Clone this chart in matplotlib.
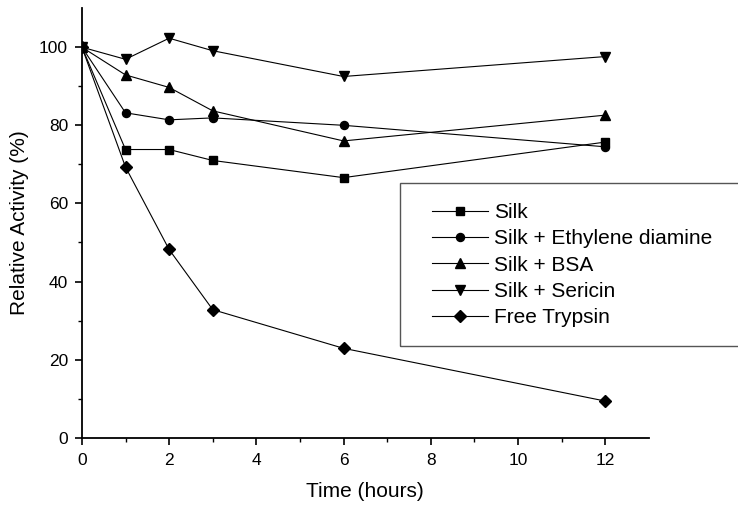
import numpy as np
import matplotlib.pyplot as plt
from matplotlib.patches import Rectangle

plt.rcParams['font.family'] = ['Liberation Sans', 'DejaVu Sans']

# sampling times (hours)
time_h = [0, 1, 2, 3, 6, 12]

silk = [100, 73.8, 73.8, 71.0, 66.6, 75.7]
silk_eda = [100, 83.2, 81.4, 81.9, 80.0, 74.5]
silk_bsa = [100, 92.9, 89.7, 83.7, 76.0, 82.6]
silk_sericin = [100, 96.9, 102.3, 99.1, 92.5, 97.6]
free_trypsin = [100, 69.3, 48.2, 32.8, 22.9, 9.4]

labels = ['Silk', 'Silk + Ethylene diamine', 'Silk + BSA',
          'Silk + Sericin', 'Free Trypsin']
markers = ['s', 'o', '^', 'v', 'D']
series = [silk, silk_eda, silk_bsa, silk_sericin, free_trypsin]

fig = plt.figure(figsize=(7.38, 5.09), dpi=100)
ax = fig.add_axes([0.111, 0.140, 0.768, 0.844])

for y, lab, mk in zip(series, labels, markers):
    ms = 6.5 if mk in ('^', 'v') else 5.8
    if mk == 'D':
        ms = 6
    ax.plot(time_h, y, color='black', linewidth=0.8, marker=mk,
            markersize=ms, label=lab)

ax.set_xlim(0, 13)
ax.set_ylim(0, 110)
ax.set_xticks(np.arange(0, 13, 2))
ax.set_xticks(np.arange(1, 13, 2), minor=True)
ax.set_yticks(np.arange(0, 101, 20))
ax.set_yticks(np.arange(10, 110, 20), minor=True)
for side in ('top', 'right'):
    ax.spines[side].set_visible(False)
for side in ('left', 'bottom'):
    ax.spines[side].set_linewidth(1.3)
ax.tick_params(which='major', direction='out', length=5, width=1.2,
               labelsize=12.5)
ax.tick_params(axis='x', which='major', pad=6)
ax.tick_params(axis='y', which='major', pad=5)
ax.tick_params(which='minor', direction='out', length=3, width=1.0)
ax.set_xlabel('Time (hours)', fontsize=15, labelpad=10)
ax.set_ylabel('Relative Activity (%)', fontsize=15, labelpad=7)

# legend frame running off the right edge
fig.patches.append(Rectangle((400 / 738, 1 - 346 / 509), 0.6, 163 / 509,
                             transform=fig.transFigure, fill=False,
                             edgecolor='#555555', linewidth=1.0))
fig.legend(loc='upper left', bbox_to_anchor=(432 / 738, 1 - 203 / 509),
           frameon=False, fontsize=15, handlelength=2.7,
           handletextpad=0.3, labelspacing=0.35, borderpad=0,
           borderaxespad=0)

fig.savefig('out.png', dpi=100)
